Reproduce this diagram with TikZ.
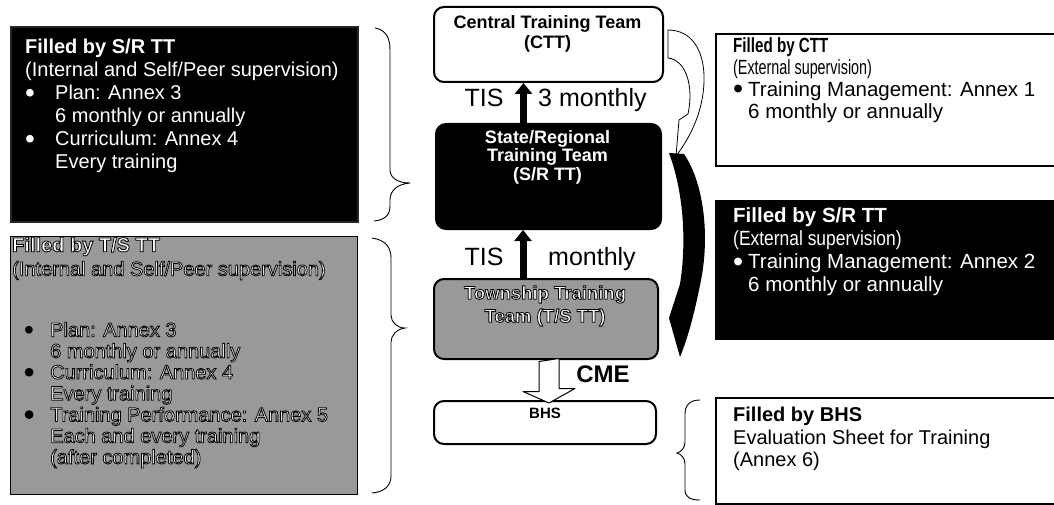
\documentclass[tikz,border=0pt]{standalone}
\usepackage{fontspec}
\setmainfont{Liberation Sans}
\usepackage{graphicx}
\usetikzlibrary{arrows.meta}
\definecolor{tgray}{gray}{0.6}
\newcommand\outl{\special{pdf:literal direct 0 G 2 Tr 0.8 w}}
\newcommand\unoutl{\special{pdf:literal direct 0 Tr}}
\newcommand\bigdot{\raisebox{-0.12em}[0pt][0pt]{\scalebox{1.4}{•}}}
\newcommand\wbul[1]{\makebox[#1][l]{\bigdot}}
\newcommand\gbul{\hspace*{12pt}\makebox[26pt][l]{\color{black}\bigdot}\outl}
\tikzset{
  rbox/.style={draw=black, line width=2pt, rounded corners=10pt, inner sep=0pt, anchor=north west},
  sqbox/.style={draw=black, line width=1.6pt, inner sep=0pt, anchor=north west},
  lbl/.style={inner sep=0pt, anchor=north west, align=left},
  ctext/.style={inner sep=0pt, align=center, font=\bfseries\fontsize{18}{18.5}\selectfont},
  big/.style={inner sep=0pt, font=\fontsize{25}{28}\selectfont},
  uparr/.style={draw=black, line width=7pt, -{Triangle[length=11pt,width=17pt]}},
  brace/.style={draw=black, line width=0.9pt},
  hollow/.style={draw=black, line width=1pt, fill=white, line join=round}
}
\begin{document}
\begin{tikzpicture}[x=1pt,y=-1pt]
\useasboundingbox (0,0) rectangle (1054,505);
\fill[white] (0,0) rectangle (1054,505);

% ---------- left boxes ----------
\node[sqbox, fill=black, draw=black!85, minimum width=347pt, minimum height=195pt] (ltbox) at (10,26) {};
\node[lbl, text=white, font=\fontsize{20}{23}\selectfont] (lttxt) at (25,39)
  {\textbf{Filled by S/R TT}\\
   (Internal and Self/Peer supervision)\\
   \wbul{30pt}Plan: Annex 3\\
   \hspace*{30pt}6 monthly or annually\\
   \wbul{30pt}Curriculum: Annex 4\\
   \hspace*{30pt}Every training};

\node[sqbox, fill=tgray, line width=1.2pt, minimum width=347pt, minimum height=258pt] (lbbox) at (10,236) {};
\node[lbl, text=white, font=\fontsize{20}{24}\selectfont] (lbhead) at (12,237)
  {\outl\textbf{Filled by T/S TT}\\
   (Internal and Self/Peer supervision)\unoutl};
\node[lbl, text=white, font=\fontsize{20}{21.2}\selectfont] (lblist) at (12,322)
  {\gbul Plan: Annex 3\\
   \hspace*{38pt}6 monthly or annually\\
   \gbul Curriculum: Annex 4\\
   \hspace*{38pt}Every training\\
   \gbul Training Performance: Annex 5\\
   \hspace*{38pt}Each and every training\\
   \hspace*{38pt}(after completed)\unoutl};

% ---------- braces ----------
\draw[brace] (375,28) .. controls (386,30) and (390,38) .. (390,50) -- (390,170)
  .. controls (390,178) and (398,183) .. (410,183)
  .. controls (398,184) and (390,190) .. (390,200) -- (390,206)
  .. controls (390,215) and (385,220) .. (374,221);
\draw[brace] (372,238) .. controls (386,240) and (391,248) .. (391,258) -- (391,315)
  .. controls (391,322) and (397,328) .. (405,328)
  .. controls (397,329) and (391,335) .. (391,342) -- (391,476)
  .. controls (391,486) and (384,492) .. (372,493);
\draw[brace] (700,400) .. controls (690,400) and (685,405) .. (685,414) -- (685,442)
  .. controls (685,448) and (681,452) .. (677,453)
  .. controls (681,454) and (685,458) .. (685,464) -- (685,490)
  .. controls (685,497) and (690,500) .. (700,500);

% ---------- centre boxes ----------
\node[rbox, fill=white, minimum width=229pt, minimum height=75pt] (ctt) at (433,6) {};
\node[ctext, font=\bfseries\fontsize{18}{20}\selectfont] (ctttxt) at (547.5,34) {Central Training Team\\(CTT)};

\node[rbox, fill=black, minimum width=225pt, minimum height=105pt] (sr) at (435,123) {};
\node[ctext, text=white] (srtxt) at (547.5,157) {State/Regional\\Training Team\\(S/R TT)};

\node[rbox, fill=tgray, minimum width=224pt, minimum height=80pt] (ts) at (433,278) {};
\node[ctext, text=white, font=\bfseries\fontsize{18.5}{23}\selectfont] (tstxt) at (545,306)
  {\outl Township Training\\Team (T/S TT)\unoutl};

\node[rbox, fill=white, minimum width=222pt, minimum height=43pt] (bhs) at (433,400) {};
\node[ctext, font=\bfseries\fontsize{15}{16}\selectfont] (bhstxt) at (545,413) {BHS};

% ---------- vertical arrows and labels ----------
\draw[uparr] ([xshift=-25pt]sr.north) -- ([xshift=-25pt]ctt.south);
\draw[uparr] ([xshift=-23pt]ts.north) -- ([xshift=-23pt]ts.north |- sr.south);
\node[big, anchor=base] (tis1) at (484,107) {TIS};
\node[big, anchor=base west] (m3) at (538,107) {3 monthly};
\node[big, anchor=base] (tis2) at (484,265) {TIS};
\node[big, anchor=base west] (m1) at (548,265) {monthly};

\coordinate (cmeA) at ([xshift=-7pt,yshift=-1.5pt]ts.south);
\draw[hollow] (cmeA) -- ++(0,30) -- ++(-16,0) -- ([xshift=4pt,yshift=-3pt]bhs.north)
  -- ++(26,-14.5) -- ++(-16,0) -- ++(0,-30) -- cycle;
\node[inner sep=0pt, font=\bfseries\fontsize{24}{26}\selectfont] (cme) at (603,374) {CME};

% ---------- curved arrows ----------
\draw[hollow, line width=0.8pt] (668,30) -- (668,58)
  .. controls (686,60) and (694,86) .. (688,114) -- (679,120) -- (676,156)
  .. controls (692,135) and (703,110) .. (704,82)
  .. controls (705,48) and (690,30) .. (668,30) -- cycle;
\fill[black] (669,153) -- (684,154) .. controls (705,185) and (710,240) .. (700,285)
  .. controls (695,310) and (689,335) .. (680,357) -- (669,318) -- (680,284)
  .. controls (687,240) and (683,190) .. (669,153) -- cycle;

% ---------- right boxes ----------
\node[sqbox, fill=white, line width=2pt, minimum width=339pt, minimum height=132pt] (rctt) at (715,33) {};
\node[lbl, font=\fontsize{20.5}{22}\selectfont] (rctttxt) at (733,37)
  {\scalebox{0.74}[1]{\textbf{Filled by CTT}}\\
   \scalebox{0.7}[1]{(External supervision)}\\
   \wbul{15pt}Training Management: Annex 1\\
   \hspace*{15pt}6 monthly or annually};

\node[sqbox, fill=black, minimum width=339pt, minimum height=138pt] (rsr) at (715,200) {};
\node[lbl, text=white, font=\fontsize{20.5}{23.3}\selectfont] (rsrtxt) at (733,207)
  {\textbf{Filled by S/R TT}\\
   \scalebox{0.85}[1]{(External supervision)}\\
   \wbul{15pt}Training Management: Annex 2\\
   \hspace*{15pt}6 monthly or annually};

\node[sqbox, fill=white, line width=1.5pt, minimum width=339pt, minimum height=106pt] (rbhs) at (715,397) {};
\node[lbl, font=\fontsize{20}{22.5}\selectfont] (rbhstxt) at (733,407)
  {\textbf{Filled by BHS}\\
   Evaluation Sheet for Training\\
   (Annex 6)};
\end{tikzpicture}
\end{document}
